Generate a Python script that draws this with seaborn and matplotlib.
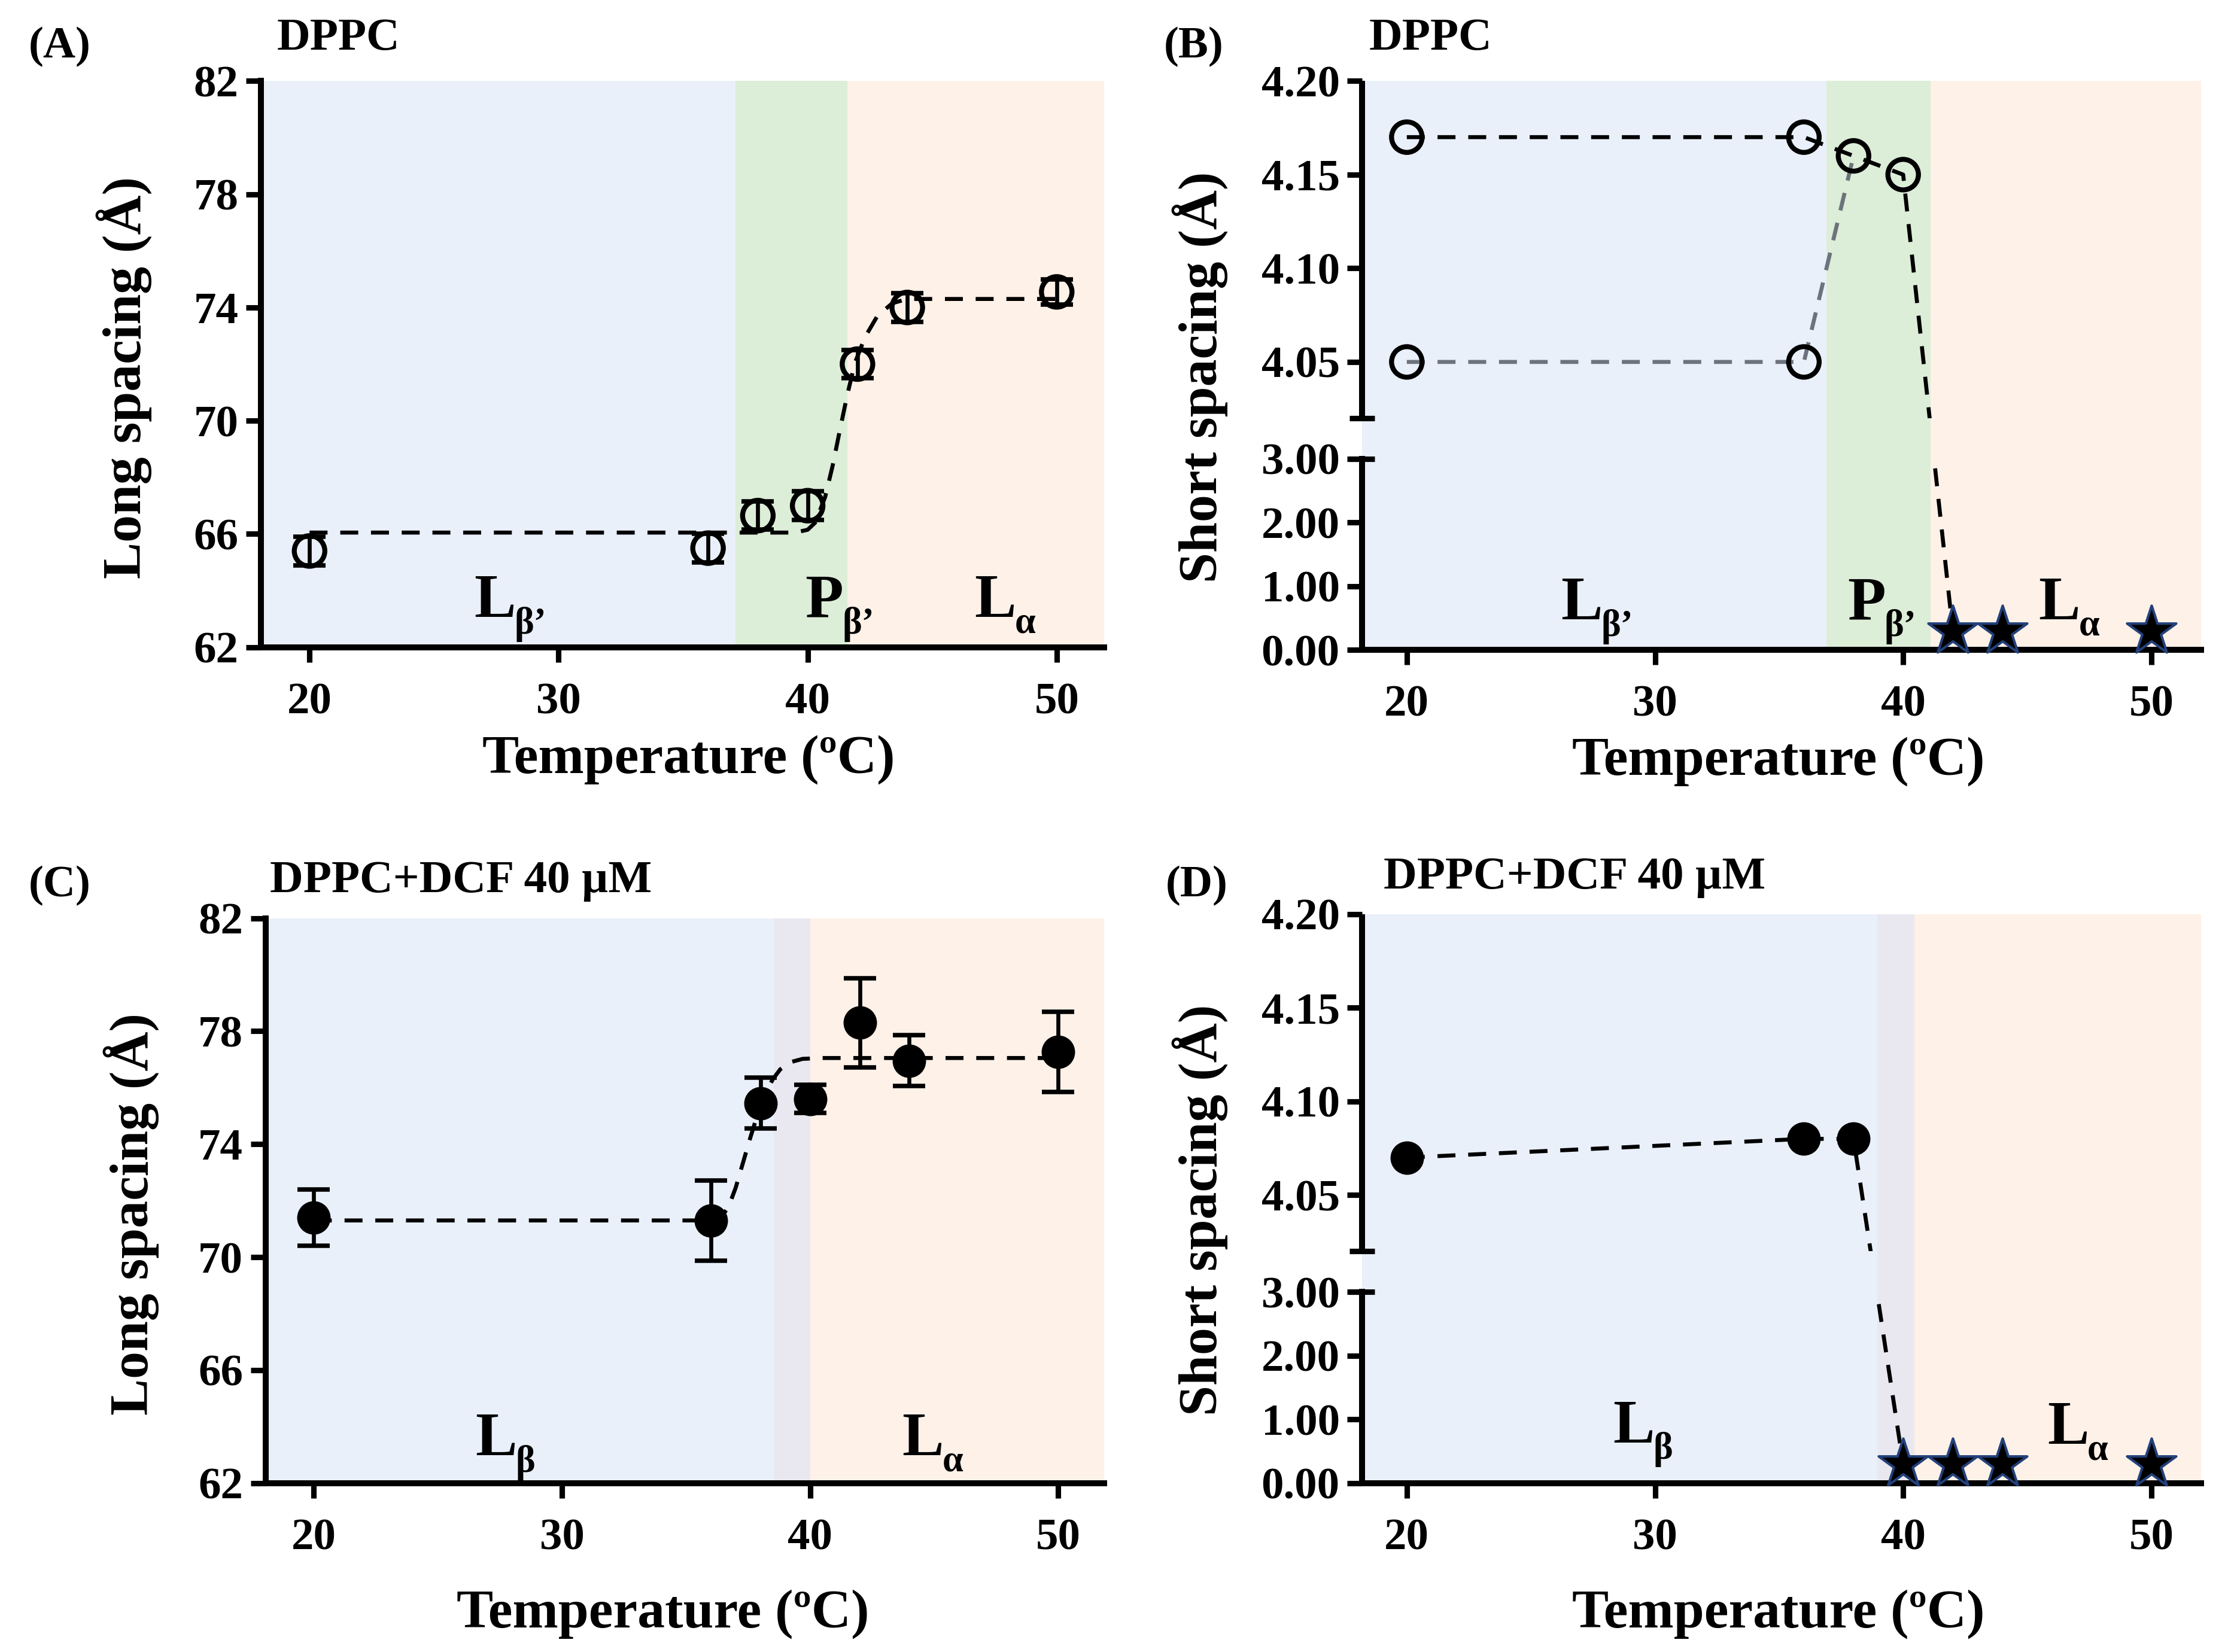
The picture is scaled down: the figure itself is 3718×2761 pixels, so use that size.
import numpy as np
import pandas as pd
import matplotlib
matplotlib.use("Agg")
import matplotlib.pyplot as plt
import seaborn as sns
from matplotlib.transforms import Bbox, TransformedBbox

# ---- data ----
temp_a = [20, 36, 38, 40, 42, 44, 50]
long_a = [65.4, 65.5, 66.65, 67.0, 72.0, 74.0, 74.55]
long_a_err = [0.5, 0.5, 0.5, 0.5, 0.5, 0.5, 0.45]
fit_a_t = [20, 39.5, 40.0, 40.3, 40.7, 41.0, 41.3, 41.6, 41.9, 42.3, 42.8, 43.4, 44.0, 50]
fit_a_y = [66.05, 66.05, 66.15, 66.4, 67.3, 68.4, 69.7, 70.95, 72.05, 72.95, 73.7, 74.15, 74.3, 74.3]

temp_c = [20, 36, 38, 40, 42, 44, 50]
long_c = [71.4, 71.3, 75.45, 75.6, 78.3, 76.95, 77.27]
long_c_err = [1.0, 1.42, 0.9, 0.5, 1.58, 0.9, 1.42]
fit_c_t = [20, 36.3, 36.7, 37.0, 37.3, 37.6, 37.9, 38.2, 38.5, 38.8, 39.2, 39.7, 40.5, 50]
fit_c_y = [71.3, 71.3, 71.75, 72.45, 73.35, 74.25, 75.1, 75.8, 76.3, 76.65, 76.9, 77.02, 77.05, 77.05]

# panel B: two short spacing peaks, DPPC
b_peak1_t = [20, 36, 38, 40, 42]
b_peak1_y = [4.17, 4.17, 4.16, 4.15, 0.3]
b_peak2_t = [20, 36, 38]
b_peak2_y = [4.05, 4.05, 4.16]
b_open_t = [20, 36, 38, 40, 20, 36]
b_open_y = [4.17, 4.17, 4.16, 4.15, 4.05, 4.05]
b_star_t = [42, 44, 50]

# panel D: DPPC + DCF
d_line_t = [20, 36, 38, 40]
d_line_y = [4.07, 4.08, 4.08, 0.3]
d_pts_t = [20, 36, 38]
d_pts_y = [4.07, 4.08, 4.08]
d_star_t = [40, 42, 44, 50]
star_level = 0.3

long_ticks = [62, 66, 70, 74, 78, 82]
short_ticks = [0, 1, 2, 3, 4.05, 4.10, 4.15, 4.20]
short_ticklabels = ["0.00", "1.00", "2.00", "3.00", "4.05", "4.10", "4.15", "4.20"]
x_ticks = [20, 30, 40, 50]

# phase regions (start, end, colour)
phases_a = [(None, 37.1, "#e9f0fa"), (37.1, 41.6, "#dcedd8"), (41.6, None, "#fef1e8")]
phases_b = [(None, 36.9, "#e9f0fa"), (36.9, 41.1, "#dcedd8"), (41.1, None, "#fef1e8")]
phases_c = [(None, 38.55, "#e9f0fa"), (38.55, 40.0, "#e9e8f0"), (40.0, None, "#fef1e8")]
phases_d = [(None, 38.95, "#e9f0fa"), (38.95, 40.45, "#e9e8f0"), (40.45, None, "#fef1e8")]

sns.set_style("ticks")
plt.rcParams["font.family"] = ["Liberation Serif", "DejaVu Serif"]
plt.rcParams["font.weight"] = "bold"
plt.rcParams["axes.labelweight"] = "bold"
plt.rcParams["text.color"] = "black"
plt.rcParams["axes.labelcolor"] = "black"
plt.rcParams["axes.linewidth"] = 2.4
plt.rcParams["xtick.major.width"] = 2.2
plt.rcParams["ytick.major.width"] = 2.2
plt.rcParams["xtick.major.size"] = 6
plt.rcParams["ytick.major.size"] = 6
plt.rcParams["xtick.color"] = "black"
plt.rcParams["ytick.color"] = "black"
plt.rcParams["xtick.labelcolor"] = "black"
plt.rcParams["ytick.labelcolor"] = "black"
plt.rcParams["axes.edgecolor"] = "black"

LW = 1.6
DASH = (4.5, 3.2)
TICK_FS = 18
LABEL_FS = 22

# broken y axis for short spacing: 0-3 linear, gap, 4.02-4.20 expanded
GAP = 0.64
K = 29.4


def fwd(y):
    y = np.asarray(y, float)
    return np.where(y <= 3.0, y,
                    np.where(y >= 4.02, 3.0 + GAP + (y - 4.02) * K,
                             3.0 + (y - 3.0) * GAP / 1.02))


def inv(t):
    t = np.asarray(t, float)
    return np.where(t <= 3.0, t,
                    np.where(t >= 3.0 + GAP, 4.02 + (t - 3.0 - GAP) / K,
                             3.0 + (t - 3.0) * 1.02 / GAP))


def shade(ax, phases, xlim):
    for x0, x1, c in phases:
        ax.axvspan(xlim[0] if x0 is None else x0, xlim[1] if x1 is None else x1,
                   color=c, lw=0, zorder=0)


def phase_label(ax, x, yfrac, main, sub):
    t = ax.text(x, yfrac, main, transform=ax.get_xaxis_transform(), fontsize=25,
                fontweight="bold", va="center", ha="left", zorder=6)
    ax.annotate(sub, xy=(0.97, 0.42), xycoords=t, fontsize=15, fontweight="bold",
                va="top", ha="left", zorder=6)


def dashed(ax, x, y, color="black"):
    df = pd.DataFrame({"x": x, "y": y})
    sns.lineplot(data=df, x="x", y="y", ax=ax, sort=False, estimator=None,
                 color=color, lw=LW, zorder=3)
    line = ax.lines[-1]
    line.set_dashes(DASH)
    return line


def style_axes(ax, xlim, xlabel_pos, ylabel, ylabel_pos):
    ax.set_xlim(*xlim)
    ax.set_xticks(x_ticks)
    sns.despine(ax=ax)
    ax.tick_params(axis="x", labelsize=TICK_FS, pad=8, direction="out")
    ax.tick_params(axis="y", labelsize=TICK_FS, pad=3, direction="out")
    ax.set_xlabel("Temperature (ºC)", fontsize=LABEL_FS, fontweight="bold")
    ax.set_ylabel(ylabel, fontsize=LABEL_FS, fontweight="bold")
    ax.xaxis.set_label_coords(*xlabel_pos)
    ax.yaxis.set_label_coords(*ylabel_pos)
    for lab in ax.get_xticklabels() + ax.get_yticklabels():
        lab.set_fontweight("bold")


def long_panel(ax, xlim, phases, t, y, err, fit_t, fit_y, filled):
    shade(ax, phases, xlim)
    dashed(ax, fit_t, fit_y)
    ax.errorbar(t, y, yerr=err, fmt="none", ecolor="black", elinewidth=1.6,
                capsize=6.5, capthick=1.8, zorder=3)
    if filled:
        sns.scatterplot(x=t, y=y, ax=ax, marker="o", s=180, color="black",
                        edgecolor="black", linewidth=0, zorder=4)
    else:
        sns.scatterplot(x=t, y=y, ax=ax, marker="o", s=150, color="black",
                        facecolor="none", edgecolor="black", linewidth=2.0, zorder=4)
        ax.collections[-1].set_facecolor("none")
    ax.set_ylim(62, 82)
    ax.set_yticks(long_ticks)


def short_panel(ax, xlim, phases):
    shade(ax, phases, xlim)
    ax.set_yscale("function", functions=(fwd, inv))
    ax.set_ylim(0, 4.20)
    ax.set_yticks(short_ticks)
    ax.set_yticklabels(short_ticklabels)
    ax.spines["left"].set_bounds(0, 3.0)
    ytr = ax.get_yaxis_transform()
    ax.plot([0, 0], [4.02, 4.20], transform=ytr, color="black", lw=2.4,
            clip_on=False, solid_capstyle="butt", zorder=5)
    ax.plot([0, 0], [4.02, 3.0], transform=ytr, color="black", lw=0,
            marker="_", ms=10, mew=2.2, clip_on=False, zorder=5)


def clipped_dashed(ax, x, y, color="black"):
    top = float(fwd(4.20))
    lo = float(fwd(3.0)) / top
    hi = float(fwd(4.02)) / top
    for y0, y1 in [(-0.05, lo), (hi, 1.05)]:
        line = dashed(ax, x, y, color)
        line.set_clip_box(TransformedBbox(Bbox([[0, y0], [1, y1]]), ax.transAxes))


def stars(ax, t):
    sns.scatterplot(x=t, y=[star_level] * len(t), ax=ax, marker="*", s=430,
                    color="black", edgecolor="#23407a", linewidth=1.0, zorder=5,
                    clip_on=False)


fig = plt.figure(figsize=(3718 / 300, 2761 / 300), dpi=300)
ax_a = fig.add_axes([0.1173, 0.6082, 0.3789, 0.3428])
ax_b = fig.add_axes([0.6122, 0.6065, 0.3770, 0.3445])
ax_c = fig.add_axes([0.1193, 0.1022, 0.3769, 0.3420])
ax_d = fig.add_axes([0.6122, 0.1022, 0.3770, 0.3445])

# (A)
xl_a = (18.05, 51.9)
long_panel(ax_a, xl_a, phases_a, temp_a, long_a, long_a_err, fit_a_t, fit_a_y, filled=False)
style_axes(ax_a, xl_a, (0.507, -0.155), "Long spacing (Å)", (-0.129, 0.476))
phase_label(ax_a, 26.6, 0.08, "L", "β’")
phase_label(ax_a, 39.9, 0.08, "P", "β’")
phase_label(ax_a, 46.7, 0.08, "L", "α")

# (B)
xl_b = (18.2, 52.0)
short_panel(ax_b, xl_b, phases_b)
clipped_dashed(ax_b, b_peak2_t, b_peak2_y, color="#6c737c")
clipped_dashed(ax_b, b_peak1_t, b_peak1_y)
sns.scatterplot(x=b_open_t, y=b_open_y, ax=ax_b, marker="o", s=150, color="black",
                facecolor="none", edgecolor="black", linewidth=2.0, zorder=4)
ax_b.collections[-1].set_facecolor("none")
stars(ax_b, b_star_t)
style_axes(ax_b, xl_b, (0.496, -0.152), "Short spacing (Å)", (-0.16, 0.48))
phase_label(ax_b, 26.2, 0.08, "L", "β’")
phase_label(ax_b, 37.75, 0.08, "P", "β’")
phase_label(ax_b, 45.45, 0.08, "L", "α")

# (C)
xl_c = (18.05, 51.85)
long_panel(ax_c, xl_c, phases_c, temp_c, long_c, long_c_err, fit_c_t, fit_c_y, filled=True)
style_axes(ax_c, xl_c, (0.474, -0.188), "Long spacing (Å)", (-0.127, 0.476))
phase_label(ax_c, 26.5, 0.076, "L", "β")
phase_label(ax_c, 43.7, 0.076, "L", "α")

# (D)
xl_d = (18.2, 52.0)
short_panel(ax_d, xl_d, phases_d)
clipped_dashed(ax_d, d_line_t, d_line_y)
sns.scatterplot(x=d_pts_t, y=d_pts_y, ax=ax_d, marker="o", s=180, color="black",
                edgecolor="black", linewidth=0, zorder=4)
stars(ax_d, d_star_t)
style_axes(ax_d, xl_d, (0.496, -0.187), "Short spacing (Å)", (-0.16, 0.48))
phase_label(ax_d, 28.3, 0.098, "L", "β")
phase_label(ax_d, 45.8, 0.095, "L", "α")

# panel letters and titles
fig.text(0.0128, 0.9716, "(A)", fontsize=18, fontweight="bold", va="center")
fig.text(0.1244, 0.9768, "DPPC", fontsize=18.5, fontweight="bold", va="center")
fig.text(0.523, 0.9716, "(B)", fontsize=18, fontweight="bold", va="center")
fig.text(0.6154, 0.9768, "DPPC", fontsize=18.5, fontweight="bold", va="center")
fig.text(0.0128, 0.464, "(C)", fontsize=18, fontweight="bold", va="center")
fig.text(0.1212, 0.4665, "DPPC+DCF 40 µM", fontsize=18.5, fontweight="bold", va="center")
fig.text(0.524, 0.464, "(D)", fontsize=18, fontweight="bold", va="center")
fig.text(0.6218, 0.469, "DPPC+DCF 40 µM", fontsize=18.5, fontweight="bold", va="center")

fig.savefig("out.png", dpi=300)
